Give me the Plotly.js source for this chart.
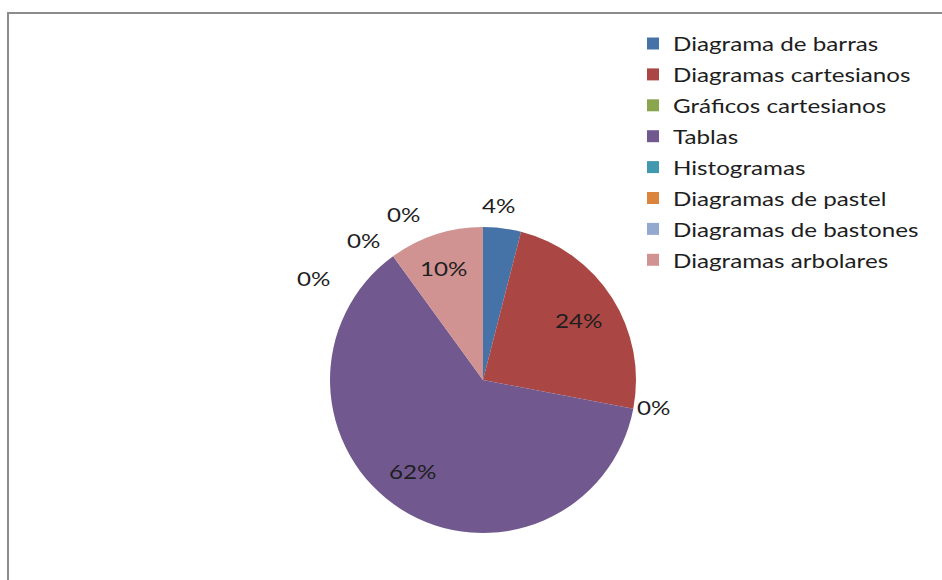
<!DOCTYPE html>
<html>
<head>
<meta charset="utf-8">
<script src="https://cdn.plot.ly/plotly-3.0.1.min.js"></script>
<style>
html,body{margin:0;padding:0;background:#fff;overflow:hidden;}
#chart{position:absolute;left:0;top:0;width:942px;height:580px;}
#frame{position:absolute;left:7px;top:12px;width:1200px;height:1200px;border-left:2px solid #8c8c8c;border-top:2px solid #8c8c8c;pointer-events:none;}
</style>
</head>
<body>
<div id="chart"></div>
<div id="frame"></div>
<script>
// ---- data ----
const categories = ["Diagrama de barras","Diagramas cartesianos","Gráficos cartesianos","Tablas","Histogramas","Diagramas de pastel","Diagramas de bastones","Diagramas arbolares"];
const values = [4, 24, 0, 62, 0, 0, 0, 10];
const colors = ["#4572A7","#AA4643","#89A54E","#71588F","#4198AF","#DB843D","#93A9CF","#D19392"];

// ---- layout constants (pixels) ----
const W = 942, H = 580;
const cx = 483, cy = 380, R = 153;
const FONT = "Lato, 'Open Sans', sans-serif";
const FS = 20;
const TEXT_STRETCH = 1.21;   // horizontal widening of the text glyphs
const LEGEND_ROW = 30.9;     // legend row pitch
// label placement relative to each slice's mid-angle: angle nudge (deg) and radius factor
const labelPlace = [
  {da: -1.9, rf: 1.15},
  {da: 0.1, rf: 0.735},
  {da: -1.8, rf: 1.13},
  {da: 5.2, rf: 0.75},
  {da: -23, rf: 1.29},
  {da: -4.4, rf: 1.2},
  {da: 10.5, rf: 1.2},
  {da: -1.5, rf: 0.78}
];

const total = values.reduce((a,b)=>a+b,0);
const annotations = [];
let cum = 0;
values.forEach((v,i)=>{
  const mid = (cum + v/2)/total*360;
  cum += v;
  const p = labelPlace[i];
  const a = (mid + p.da)*Math.PI/180;
  const px = cx + Math.sin(a)*R*p.rf;
  const py = cy - Math.cos(a)*R*p.rf;
  annotations.push({
    text: Math.round(v/total*100) + "%",
    x: px/W, y: 1 - py/H, xref: "paper", yref: "paper",
    xanchor: "center", yanchor: "middle", showarrow: false,
    font: {family: FONT, size: FS, color: "#1e1e1e"}
  });
});

const trace = {
  type: "pie",
  labels: categories,
  values: values,
  sort: false,
  direction: "clockwise",
  rotation: 0,
  textinfo: "none",
  hoverinfo: "label+percent",
  marker: {colors: colors, line: {width: 0}},
  domain: {x: [(cx-R)/W, (cx+R)/W], y: [(H-cy-R)/H, (H-cy+R)/H]},
  showlegend: true
};

const layout = {
  width: W, height: H,
  margin: {l:0, r:0, t:0, b:0},
  paper_bgcolor: "#ffffff",
  font: {family: FONT, size: FS, color: "#1e1e1e"},
  legend: {
    x: 633/W, y: 1 - 28/H, xanchor: "left", yanchor: "top",
    font: {family: FONT, size: FS, color: "#1e1e1e"},
    itemwidth: 30, tracegroupgap: 0, bgcolor: "rgba(0,0,0,0)"
  },
  annotations: annotations
};

function stretch(t){
  const x = parseFloat(t.getAttribute('x')) || 0;
  t.setAttribute('transform', 'translate(' + (x*(1-TEXT_STRETCH)) + ',0) scale(' + TEXT_STRETCH + ',1)');
}

Plotly.newPlot("chart", [trace], layout, {displayModeBar: false, staticPlot: true}).then(function(gd){
  gd.querySelectorAll('.legend [clip-path]').forEach(function(el){ el.removeAttribute('clip-path'); });
  const items = gd.querySelectorAll('.legend .traces');
  let x0 = 0, y0 = 0;
  items.forEach(function(g, i){
    const m = /translate\(\s*([-\d.]+)[ ,]+([-\d.]+)\s*\)/.exec(g.getAttribute('transform') || '');
    if(i === 0 && m){ x0 = parseFloat(m[1]); y0 = parseFloat(m[2]) - 4; }
    g.setAttribute('transform', 'translate(' + x0 + ',' + (y0 + i*LEGEND_ROW) + ')');
    const t = g.querySelector('text.legendtext');
    if(t) stretch(t);
  });
  gd.querySelectorAll('text.annotation-text').forEach(stretch);
});
</script>
</body>
</html>
